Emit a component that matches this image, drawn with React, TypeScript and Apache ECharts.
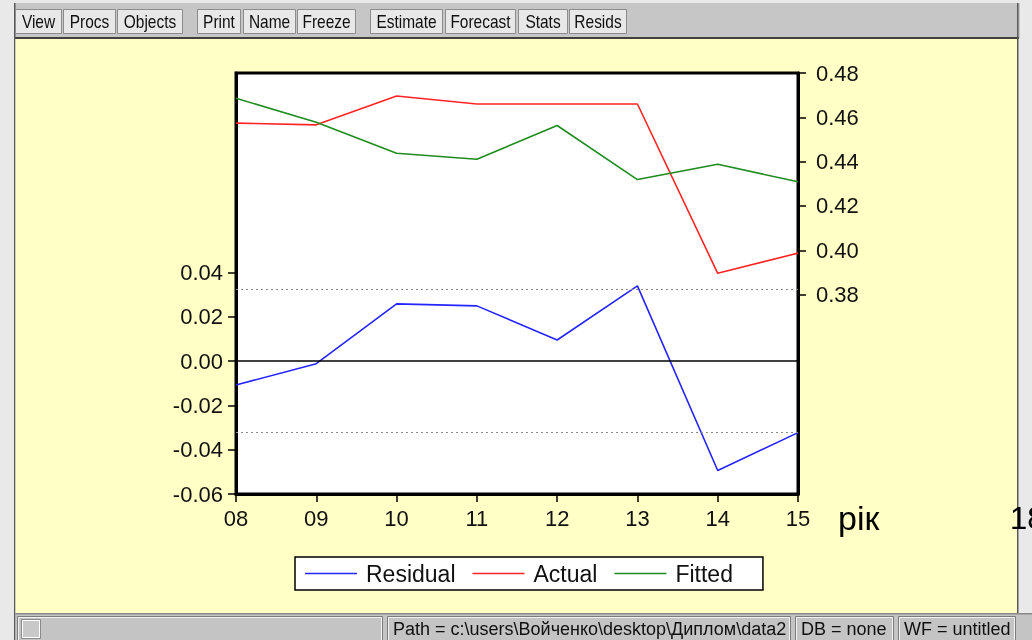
import React, { useEffect, useRef } from "react";
import * as echarts from "echarts";

const years = ["08", "09", "10", "11", "12", "13", "14", "15"];
const residual = [-0.0108, -0.0012, 0.0258, 0.0249, 0.0095, 0.0339, -0.0494, -0.0323];
const actual = [0.4574, 0.4566, 0.4696, 0.4660, 0.4660, 0.4660, 0.3896, 0.3987];
const fitted = [0.4686, 0.4578, 0.4438, 0.4411, 0.4563, 0.4319, 0.4388, 0.4309];
const residTicks = [-0.06, -0.04, -0.02, 0, 0.02, 0.04];
const levelTicks = [0.38, 0.4, 0.42, 0.44, 0.46, 0.48];
const seBand = 0.0323;
const seriesNames = ["Residual", "Actual", "Fitted"];
const toolbarButtons = [
  { label: "View", x0: 15, x1: 62 },
  { label: "Procs", x0: 63, x1: 116 },
  { label: "Objects", x0: 117, x1: 183 },
  { label: "Print", x0: 197, x1: 241 },
  { label: "Name", x0: 243, x1: 296 },
  { label: "Freeze", x0: 297, x1: 356 },
  { label: "Estimate", x0: 370, x1: 443 },
  { label: "Forecast", x0: 445, x1: 516 },
  { label: "Stats", x0: 518, x1: 568 },
  { label: "Resids", x0: 569, x1: 627 },
];
const statusPanels = [
  { label: "", x0: 17, x1: 383 },
  { label: "Path = c:\\users\\Войченко\\desktop\\Диплом\\data2", x0: 387, x1: 791 },
  { label: "DB = none", x0: 795, x1: 894 },
  { label: "WF = untitled", x0: 898, x1: 1016 },
];

const FONT = "'Liberation Sans', Arial, sans-serif";

export default function App() {
  const ref = useRef<HTMLDivElement>(null);
  useEffect(() => {
    if (!ref.current) return;
    const chart = echarts.init(ref.current, null, { renderer: "svg" });

    const graphics: any[] = [
      { type: "rect", z: -100, shape: { x: 0, y: 0, width: 1032, height: 640 }, style: { fill: "#e9e9e9" } },
      { type: "rect", z: -99, shape: { x: 14, y: 3, width: 1006, height: 35 }, style: { fill: "#c6c6c6" } },
      { type: "rect", z: -99, shape: { x: 14, y: 37, width: 1005, height: 2 }, style: { fill: "#404040" } },
      { type: "rect", z: -99, shape: { x: 14, y: 3, width: 1.5, height: 637 }, style: { fill: "#5a5a5a" } },
      { type: "rect", z: -99, shape: { x: 1017, y: 3, width: 1.5, height: 610 }, style: { fill: "#5a5a5a" } },
      { type: "rect", z: -98, shape: { x: 15.5, y: 39, width: 1001.5, height: 574 }, style: { fill: "#ffffc6" } },
      { type: "rect", z: -98, shape: { x: 15.5, y: 613, width: 1016.5, height: 27 }, style: { fill: "#c4c4c4" } },
      { type: "rect", z: -97, shape: { x: 15.5, y: 613, width: 1016.5, height: 1.5 }, style: { fill: "#8a8a8a" } },
    ];
    toolbarButtons.forEach((b) => {
      graphics.push({
        type: "rect",
        z: -90,
        shape: { x: b.x0 + 0.5, y: 9.5, width: b.x1 - b.x0 - 1, height: 24 },
        style: { fill: "#e8e8e8", stroke: "#8c8c8c", lineWidth: 1 },
      });
      graphics.push({
        type: "text",
        z: -89,
        x: (b.x0 + b.x1) / 2,
        y: 22,
        scaleX: 0.86,
        style: { text: b.label, fill: "#101010", font: `18px ${FONT}`, align: "center", verticalAlign: "middle" },
      });
    });
    statusPanels.forEach((p) => {
      graphics.push({
        type: "rect",
        z: -90,
        shape: { x: p.x0 + 0.5, y: 616.5, width: p.x1 - p.x0 - 1, height: 26 },
        style: { fill: "#c4c4c4", stroke: "#7c7c7c", lineWidth: 1 },
      });
      graphics.push({
        type: "rect",
        z: -90,
        shape: { x: p.x0 + 1.5, y: 617.5, width: p.x1 - p.x0 - 3, height: 24 },
        style: { fill: "none", stroke: "#f2f2f2", lineWidth: 1 },
      });
      if (p.label) {
        graphics.push({
          type: "text",
          z: -89,
          x: p.x0 + 6,
          y: 629,
          style: { text: p.label, fill: "#101010", font: `18px ${FONT}`, align: "left", verticalAlign: "middle" },
        });
      }
    });
    graphics.push({
      type: "rect",
      z: -88,
      shape: { x: 21.5, y: 619.5, width: 19, height: 19 },
      style: { fill: "#c8c8c8", stroke: "#8a8a8a", lineWidth: 1 },
    });
    graphics.push({
      type: "rect",
      z: -87,
      shape: { x: 22.5, y: 620.5, width: 17, height: 17 },
      style: { fill: "none", stroke: "#ffffff", lineWidth: 1 },
    });
    graphics.push({
      type: "text",
      z: 100,
      x: 838,
      y: 518,
      style: { text: "рік", fill: "#000", font: `34px ${FONT}`, align: "left", verticalAlign: "middle" },
    });
    graphics.push({
      type: "text",
      z: 100,
      x: 1010,
      y: 518,
      style: { text: "18", fill: "#000", font: `31px ${FONT}`, align: "left", verticalAlign: "middle" },
    });

    const axisLabelStyle = { fontSize: 22, color: "#111", fontFamily: FONT };

    chart.setOption({
      animation: false,
      backgroundColor: "transparent",
      graphic: { elements: graphics },
      grid: {
        left: 236,
        top: 73,
        right: 234,
        bottom: 146,
        show: true,
        backgroundColor: "#ffffff",
        borderColor: "#000",
        borderWidth: 3,
        containLabel: false,
      },
      legend: {
        data: seriesNames,
        left: 295,
        top: 557,
        orient: "horizontal",
        padding: [5, 30, 5, 10],
        itemGap: 17,
        itemWidth: 52,
        itemHeight: 1.6,
        icon: "rect",
        borderColor: "#000",
        borderWidth: 1.5,
        backgroundColor: "#fff",
        textStyle: { fontSize: 23, color: "#111", fontFamily: FONT, padding: [0, 0, 0, 4] },
      },
      xAxis: {
        type: "category",
        data: years,
        boundaryGap: false,
        position: "bottom",
        axisLine: { show: true, onZero: false, lineStyle: { color: "#000", width: 3 } },
        axisTick: { show: true, length: 8, interval: 0, lineStyle: { color: "#000", width: 1.5 } },
        axisLabel: { ...axisLabelStyle, margin: 13, interval: 0 },
        splitLine: { show: false },
      },
      yAxis: [
        {
          type: "value",
          position: "left",
          min: -0.06,
          max: 0.13,
          splitLine: { show: false },
          axisLine: { show: true, lineStyle: { color: "#000", width: 3 } },
          axisTick: { show: true, length: 8, customValues: residTicks, lineStyle: { color: "#000", width: 1.5 } },
          axisLabel: {
            ...axisLabelStyle,
            margin: 13,
            customValues: residTicks,
            formatter: (v: number) => v.toFixed(2),
          },
        },
        {
          type: "value",
          position: "right",
          min: 0.29,
          max: 0.48,
          splitLine: { show: false },
          axisLine: { show: true, lineStyle: { color: "#000", width: 3 } },
          axisTick: { show: true, length: 8, customValues: levelTicks, lineStyle: { color: "#000", width: 1.5 } },
          axisLabel: {
            ...axisLabelStyle,
            margin: 18,
            customValues: levelTicks,
            formatter: (v: number) => v.toFixed(2),
          },
        },
      ],
      series: [
        {
          name: "Residual",
          type: "line",
          yAxisIndex: 0,
          data: residual,
          showSymbol: false,
          symbol: "none",
          lineStyle: { color: "#2424ff", width: 1.6 },
          itemStyle: { color: "#2424ff" },
          markLine: {
            silent: true,
            symbol: "none",
            precision: 6,
            label: { show: false },
            data: [
              { yAxis: 0, lineStyle: { color: "#000", width: 1.5, type: "solid" } },
              { yAxis: seBand, lineStyle: { color: "#8a8a8a", width: 1.2, type: [2, 3] } },
              { yAxis: -seBand, lineStyle: { color: "#8a8a8a", width: 1.2, type: [2, 3] } },
            ],
          },
        },
        {
          name: "Actual",
          type: "line",
          yAxisIndex: 1,
          data: actual,
          showSymbol: false,
          symbol: "none",
          lineStyle: { color: "#ff2424", width: 1.6 },
          itemStyle: { color: "#ff2424" },
        },
        {
          name: "Fitted",
          type: "line",
          yAxisIndex: 1,
          data: fitted,
          showSymbol: false,
          symbol: "none",
          lineStyle: { color: "#1e8c1e", width: 1.6 },
          itemStyle: { color: "#1e8c1e" },
        },
      ],
    });
    return () => chart.dispose();
  }, []);
  return (
    <div
      ref={ref}
      style={{ position: "fixed", left: 0, top: 0, width: 1032, height: 640 }}
    />
  );
}
